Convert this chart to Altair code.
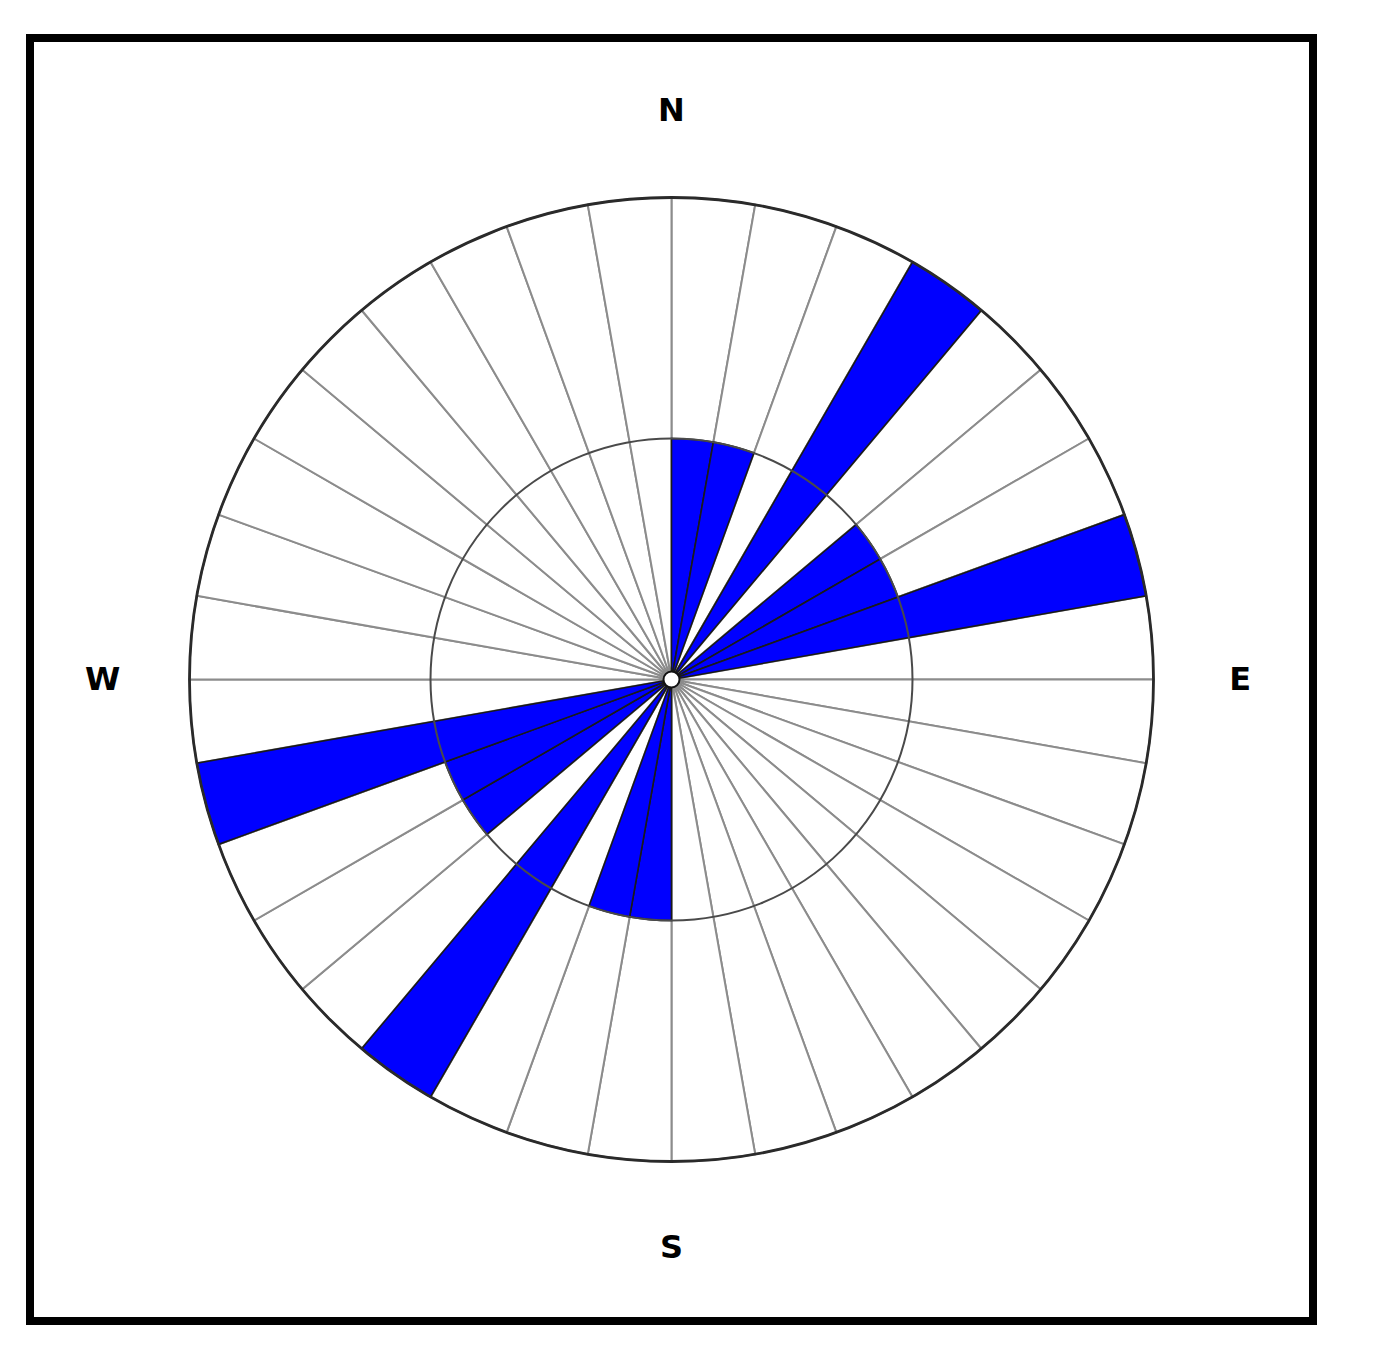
import altair as alt
import pandas as pd

# 10-degree bins (compass bearing of bin start) and counts
bin_starts = list(range(0, 360, 10))
counts = [1, 1, 0, 2, 0, 1, 1, 2, 0,
          0, 0, 0, 0, 0, 0, 0, 0, 0,
          1, 1, 0, 2, 0, 1, 1, 2, 0,
          0, 0, 0, 0, 0, 0, 0, 0, 0]
max_count = 2
ring_levels = [1, 2]
labels = ["N", "E", "S", "W"]
label_angles = [0, 90, 180, 270]
label_radius = 2.36

bins = pd.DataFrame({
    "start": bin_starts,
    "end": [b + 10 for b in bin_starts],
    "count": counts,
    "full": [max_count] * len(bin_starts),
})
petals = bins[bins["count"] > 0]
rings = pd.DataFrame({"start": [0] * len(ring_levels), "end": [360] * len(ring_levels), "r": ring_levels})
lab = pd.DataFrame({"label": labels, "angle": label_angles, "r": [label_radius] * 4})
center = pd.DataFrame({"start": [0], "end": [360]})
frame_df = pd.DataFrame({"k": [0]})

W = 1283
R = 482
theta_scale = alt.Scale(domain=[0, 360], range=[0, 6.283185307179586])
rad_scale = alt.Scale(type="linear", domain=[0, max_count], range=[0, R], zero=True)

def th(field):
    return alt.Theta(f"{field}:Q", scale=theta_scale, stack=None)

grid = alt.Chart(bins).mark_arc(fill="white", stroke="#8c8c8c", strokeWidth=2).encode(
    theta=th("start"), theta2="end:Q",
    radius=alt.Radius("full:Q", scale=rad_scale),
)

blue = alt.Chart(petals).mark_arc(fill="#0000ff", stroke="#1a1a1a", strokeWidth=1.6).encode(
    theta=th("start"), theta2="end:Q",
    radius=alt.Radius("count:Q", scale=rad_scale),
)

ring_lines = alt.Chart(rings).mark_arc(fillOpacity=0).encode(
    theta=th("start"), theta2="end:Q",
    radius=alt.Radius("r:Q", scale=rad_scale),
    strokeWidth=alt.condition(alt.datum.r == max_count, alt.value(2.8), alt.value(2)),
    stroke=alt.condition(alt.datum.r == max_count, alt.value("#2a2a2a"), alt.value("#4a4a4a")),
)

dot = alt.Chart(center).mark_arc(fill="white", stroke="#111111", strokeWidth=2).encode(
    theta=th("start"), theta2="end:Q",
    radius=alt.value(8),
)

text = alt.Chart(lab).mark_text(
    font="DejaVu Sans", fontWeight="bold", fontSize=32, color="black",
    align="center", baseline="middle",
).encode(
    theta=th("angle"),
    radius=alt.Radius("r:Q", scale=rad_scale),
    text="label:N",
)

frame = alt.Chart(frame_df).mark_rect(fillOpacity=0, stroke="black", strokeWidth=8).encode(
    x=alt.value(0), x2=alt.value(W), y=alt.value(0), y2=alt.value(W),
)

chart = alt.layer(grid, blue, ring_lines, dot, text, frame).properties(
    width=W, height=W,
    padding={"left": 22, "top": 30, "right": 10, "bottom": 10},
    autosize=alt.AutoSizeParams(type="none"),
).configure_view(stroke=None)

chart.save("out.html", embed_options={"renderer": "svg", "actions": False})
